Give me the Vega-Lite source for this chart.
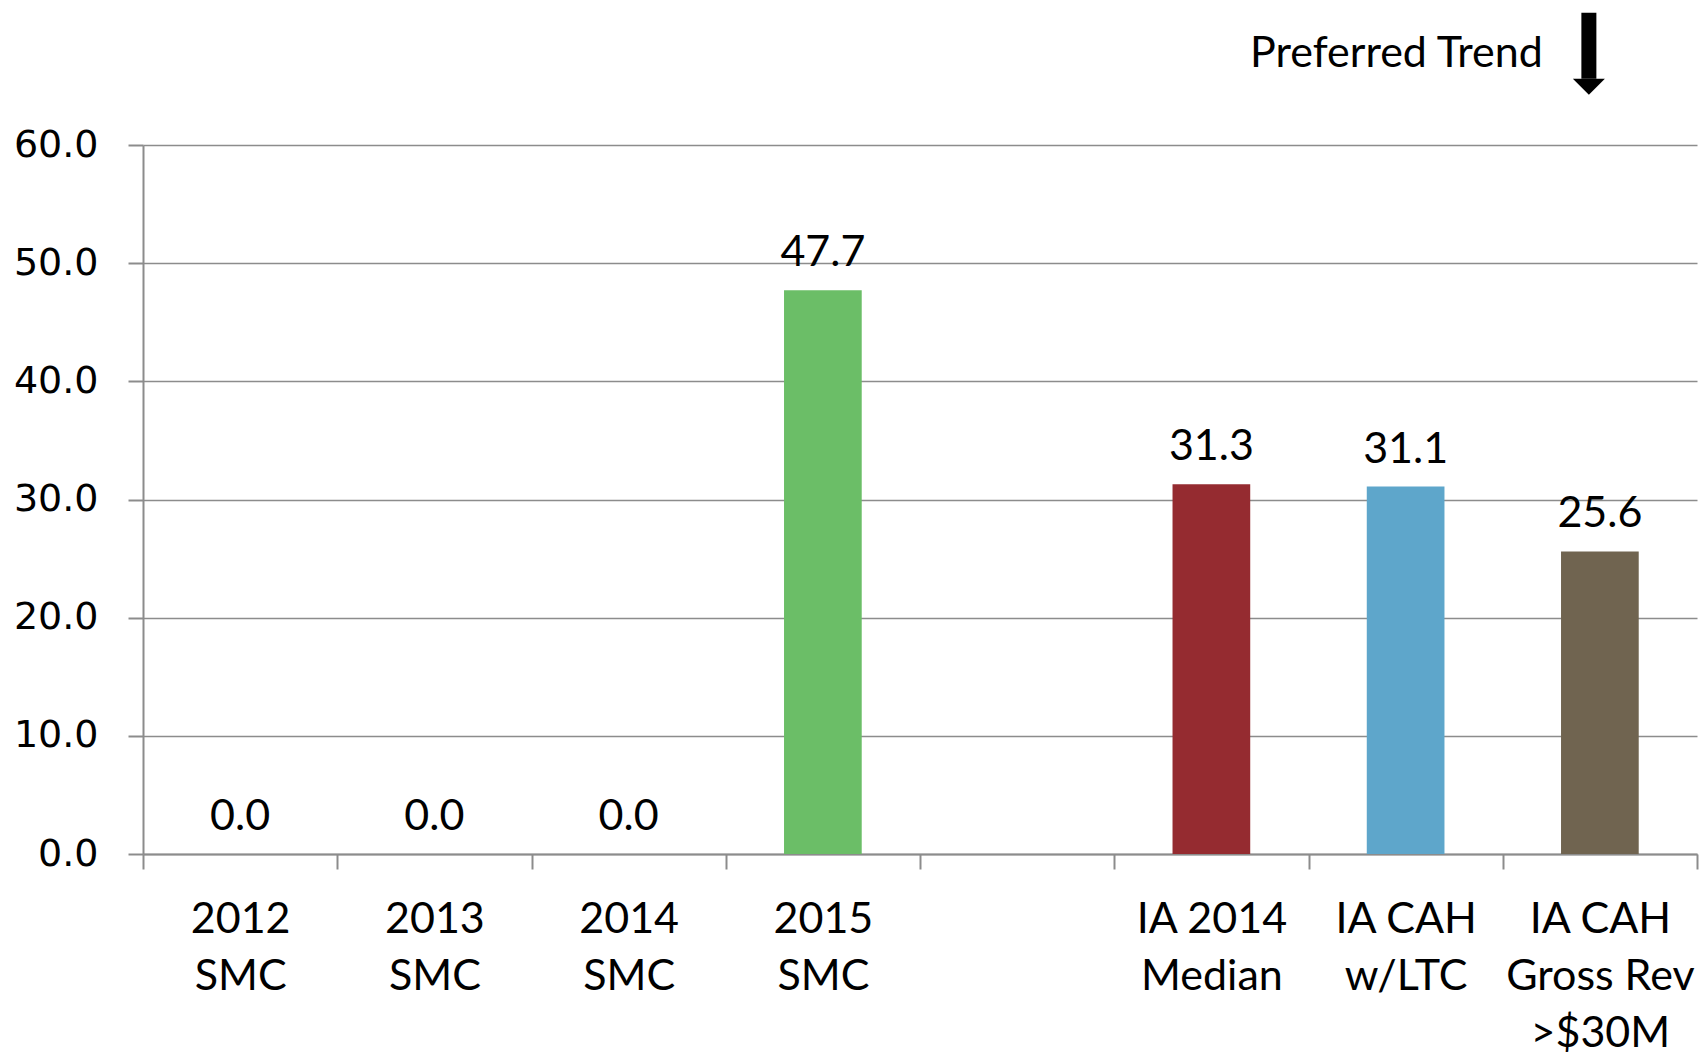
{
  "$schema": "https://vega.github.io/schema/vega-lite/v6.json",
  "autosize": {"type": "none"},
  "width": 1554,
  "height": 709,
  "padding": {"left": 143, "top": 145, "right": 3, "bottom": 198},
  "background": "white",
  "config": {
    "view": {"stroke": null},
    "axis": {"domainColor": "#8c8c8c", "tickColor": "#8c8c8c", "gridColor": "#8c8c8c", "domainWidth": 2, "tickWidth": 2, "gridWidth": 1.5}
  },
  "data": {
    "values": [
      {"cat": "2012|SMC", "value": 0.0, "group": "SMC"},
      {"cat": "2013|SMC", "value": 0.0, "group": "SMC"},
      {"cat": "2014|SMC", "value": 0.0, "group": "SMC"},
      {"cat": "2015|SMC", "value": 47.7, "group": "SMC"},
      {"cat": "IA 2014|Median", "value": 31.3, "group": "Median"},
      {"cat": "IA CAH|w/LTC", "value": 31.1, "group": "LTC"},
      {"cat": "IA CAH|Gross Rev|>$30M", "value": 25.6, "group": "Rev"}
    ]
  },
  "encoding": {
    "x": {
      "field": "cat",
      "type": "nominal",
      "sort": null,
      "scale": {"domain": ["2012|SMC", "2013|SMC", "2014|SMC", "2015|SMC", " ", "IA 2014|Median", "IA CAH|w/LTC", "IA CAH|Gross Rev|>$30M"], "paddingInner": 0, "paddingOuter": 0},
      "axis": {
        "title": null,
        "labelAngle": 0,
        "labelExpr": "split(datum.label, '|')",
        "labelFont": "Lato",
        "labelFontSize": 43,
        "labelColor": "#000000",
        "labelLineHeight": 57,
        "labelBaseline": "top",
        "labelPadding": 29,
        "labelLimit": 0,
        "tickSize": 15,
        "tickBand": "extent",
        "labelOverlap": false,
        "labelBound": false,
        "grid": false
      }
    },
    "y": {
      "field": "value",
      "type": "quantitative",
      "scale": {"domain": [0, 60], "nice": false},
      "axis": {
        "title": null,
        "values": [0, 10, 20, 30, 40, 50, 60],
        "format": ".1f",
        "labelFont": "DejaVu Sans",
        "labelFontSize": 38,
        "labelColor": "#000000",
        "labelPadding": 30,
        "tickSize": 15,
        "grid": true
      }
    }
  },
  "layer": [
    {
      "mark": {"type": "bar", "width": {"band": 0.4}},
      "encoding": {
        "color": {
          "field": "group",
          "type": "nominal",
          "scale": {"domain": ["SMC", "Median", "LTC", "Rev"], "range": ["#6BBE67", "#952B30", "#5EA6CB", "#706450"]},
          "legend": null
        }
      }
    },
    {
      "mark": {"type": "text", "baseline": "alphabetic", "dy": -24, "font": "Lato", "fontSize": 43, "color": "#000000"},
      "encoding": {
        "text": {"field": "value", "type": "quantitative", "format": ".1f"}
      }
    },
    {
      "transform": [{"filter": "datum.group == 'Rev'"}],
      "mark": {"type": "text", "align": "right", "baseline": "alphabetic", "xOffset": -57, "font": "Lato", "fontSize": 43, "fontWeight": "normal", "color": "#000000"},
      "encoding": {
        "y": {"datum": 66.6},
        "text": {"value": "Preferred Trend"}
      }
    },
    {
      "transform": [{"filter": "datum.group == 'Rev'"}],
      "mark": {"type": "rule", "color": "#000000", "strokeWidth": 15, "strokeCap": "butt", "xOffset": -11},
      "encoding": {
        "y": {"datum": 71.2},
        "y2": {"datum": 65.6}
      }
    },
    {
      "transform": [{"filter": "datum.group == 'Rev'"}],
      "mark": {"type": "point", "shape": "M -1 0 L 1 0 L 0 1 Z", "filled": true, "color": "#000000", "opacity": 1, "size": 1024, "xOffset": -11},
      "encoding": {
        "y": {"datum": 65.6}
      }
    }
  ]
}
